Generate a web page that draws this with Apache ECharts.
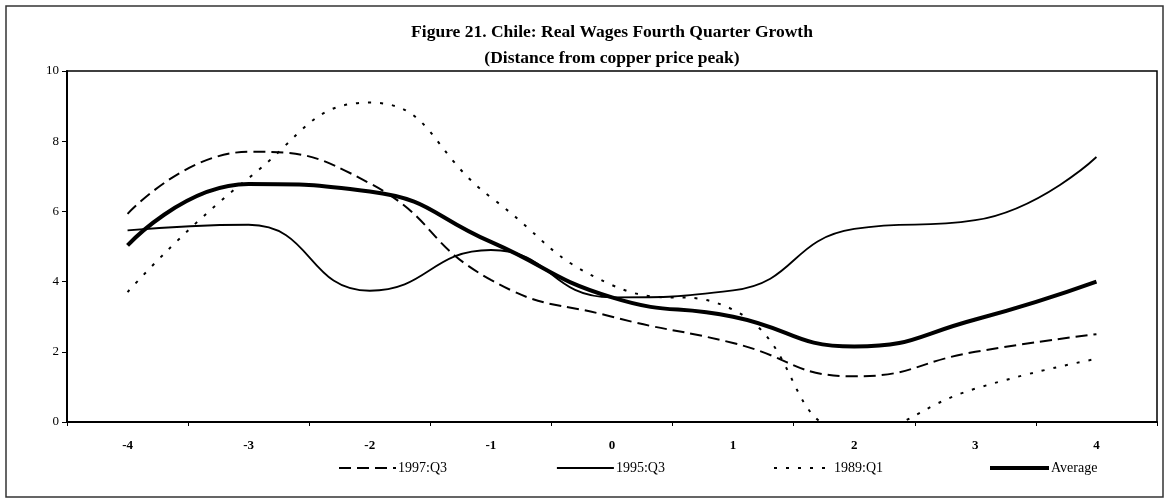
<!DOCTYPE html>
<html>
<head>
<meta charset="utf-8">
<script src="https://cdn.jsdelivr.net/npm/echarts@6/dist/echarts.min.js"></script>
<style>
  html, body { margin: 0; padding: 0; background: #fff; }
  #chart { width: 1175px; height: 503px; }
</style>
</head>
<body>
<div id="chart"></div>
<script>
// quarters from the copper price peak
var quarters = ['-4', '-3', '-2', '-1', '0', '1', '2', '3', '4'];
// real wage growth, by episode
var q1997 = [5.93, 7.70, 6.80, 4.05, 3.00, 2.25, 1.30, 2.00, 2.50];
var q1995 = [5.46, 5.62, 3.74, 4.90, 3.55, 3.75, 5.50, 5.75, 7.55];
var q1989 = [3.70, 6.95, 9.10, 6.40, 3.90, 3.20, -0.30, 0.95, 1.80];
var average = [5.03, 6.78, 6.57, 5.13, 3.55, 3.00, 2.15, 2.92, 4.00];
var yTicks = [0, 2, 4, 6, 8, 10];

var serif = '"Liberation Serif", "Times New Roman", serif';

var myChart = echarts.init(document.getElementById('chart'));

// one legend box per entry, so each one sits where it does in the figure
function legendAt(name, left, width, lineWidth, textGap) {
  return {
    left: left,
    top: 461,
    padding: 0,
    itemWidth: width,
    itemHeight: 14,
    itemStyle: { opacity: 0 },
    lineStyle: { width: lineWidth },
    textStyle: { fontFamily: serif, fontSize: 14, color: '#000', padding: [0, 0, 0, textGap] },
    data: [name]
  };
}

var option = {
  backgroundColor: '#fff',
  animation: false,
  title: {
    text: 'Figure 21. Chile: Real Wages Fourth Quarter Growth\n(Distance from copper price peak)',
    left: 607,
    top: 14,
    textAlign: 'center',
    textStyle: {
      fontFamily: serif,
      fontSize: 17.5,
      fontWeight: 'bold',
      color: '#000',
      lineHeight: 26
    }
  },
  graphic: [{
    type: 'rect',
    shape: { x: 6, y: 6, width: 1157, height: 491 },
    style: { fill: 'none', stroke: '#333', lineWidth: 1.5 }
  }],
  legend: [
    legendAt('1997:Q3', 338, 57, 2, -3),
    legendAt('1995:Q3', 556, 57, 1.8, -3),
    legendAt('1989:Q1', 773, 52, 2, 3),
    legendAt('Average', 988, 59, 4, -3)
  ],
  grid: {
    left: 67,
    right: 18,
    top: 71,
    bottom: 81,
    show: true,
    borderColor: '#000',
    borderWidth: 1.5
  },
  xAxis: {
    type: 'category',
    data: quarters,
    boundaryGap: true,
    axisLine: { lineStyle: { color: '#000', width: 2 } },
    axisTick: { show: true, length: 4, inside: false, lineStyle: { color: '#000' } },
    axisLabel: { fontFamily: serif, fontSize: 13, fontWeight: 'bold', color: '#000', margin: 17 }
  },
  yAxis: {
    type: 'value',
    min: yTicks[0],
    max: yTicks[yTicks.length - 1],
    interval: 2,
    splitLine: { show: false },
    axisLine: { show: true, lineStyle: { color: '#000', width: 2 } },
    axisTick: { show: true, length: 5, lineStyle: { color: '#000' } },
    axisLabel: { fontFamily: serif, fontSize: 13, color: '#000', margin: 8 }
  },
  series: [
    {
      name: '1997:Q3',
      type: 'line',
      data: q1997,
      smooth: true,
      symbol: 'none',
      itemStyle: { color: '#000' },
      lineStyle: { color: '#000', width: 2, type: [12, 6] }
    },
    {
      name: '1995:Q3',
      type: 'line',
      data: q1995,
      smooth: true,
      symbol: 'none',
      itemStyle: { color: '#000' },
      lineStyle: { color: '#000', width: 1.8 }
    },
    {
      name: '1989:Q1',
      type: 'line',
      data: q1989,
      smooth: true,
      symbol: 'none',
      clip: true,
      itemStyle: { color: '#000' },
      lineStyle: { color: '#000', width: 2, type: [3, 9] }
    },
    {
      name: 'Average',
      type: 'line',
      data: average,
      smooth: true,
      symbol: 'none',
      itemStyle: { color: '#000' },
      lineStyle: { color: '#000', width: 4 }
    }
  ]
};

myChart.setOption(option);
</script>
</body>
</html>
